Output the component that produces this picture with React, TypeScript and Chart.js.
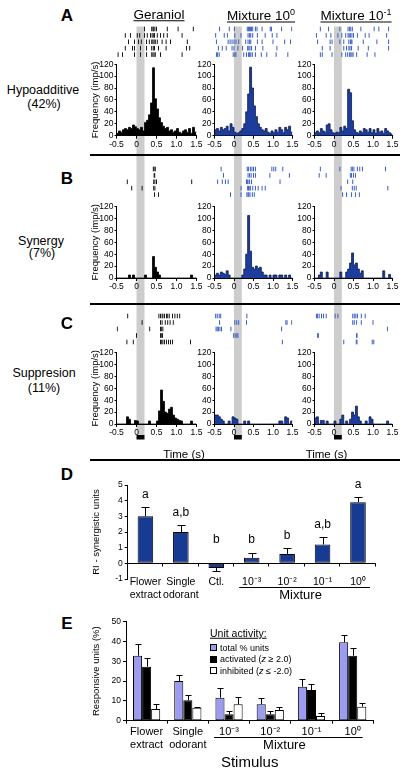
import React, { useEffect, useRef } from "react";
import { Chart, registerables } from "chart.js";
Chart.register(...registerables);

const FONT = "'Liberation Sans', Arial, Helvetica, sans-serif";
Chart.defaults.font.family = FONT;
Chart.defaults.color = "#000";

// ---------------- data: PSTH panels ----------------
const TIME_TICKS = [-0.5, 0, 0.5, 1.0, 1.5];
const FREQ_TICKS = [0, 20, 40, 60, 80, 100, 120];
const STIMULUS_WINDOW = [0, 0.2];
const TIME_START = -0.5;
const TIME_END = 1.5;
const BIN_WIDTH = 0.05;

// firing rate (imp/s) per 50 ms bin, -0.5 .. 1.5 s
const HIST_A_GERANIOL = [4, 8, 6, 10, 12, 10, 14, 12, 18, 15, 12, 10, 14, 8, 22, 26, 35, 55, 114, 62, 45, 30, 22, 16, 12, 14, 8, 10, 6, 8, 12, 6, 4, 8, 10, 6, 12, 4, 14, 6];
const HIST_A_MIX0 = [10, 12, 8, 14, 10, 12, 16, 8, 20, 14, 6, 4, 5, 8, 12, 20, 40, 70, 115, 80, 50, 32, 20, 14, 10, 8, 12, 6, 4, 8, 5, 10, 6, 14, 10, 5, 14, 10, 16, 6];
const HIST_A_MIX1 = [5, 8, 5, 12, 8, 6, 18, 20, 10, 5, 4, 6, 5, 14, 8, 16, 12, 78, 72, 25, 10, 6, 4, 8, 5, 12, 10, 6, 12, 5, 10, 4, 12, 6, 8, 4, 12, 8, 5, 3];
const HIST_B_GERANIOL = [0, 0, 0, 0, 0, 0, 5, 0, 5, 0, 0, 0, 0, 0, 5, 0, 0, 0, 36, 18, 10, 5, 0, 0, 0, 0, 0, 0, 0, 0, 0, 0, 0, 0, 0, 0, 0, 5, 0, 0];
const HIST_B_MIX0 = [5, 8, 5, 10, 8, 6, 12, 5, 0, 0, 0, 0, 0, 0, 5, 15, 40, 105, 45, 18, 15, 20, 16, 18, 10, 5, 5, 0, 5, 0, 5, 5, 0, 5, 5, 0, 5, 0, 5, 0];
const HIST_B_MIX1 = [0, 0, 5, 10, 0, 0, 10, 0, 0, 0, 0, 0, 0, 10, 0, 0, 10, 15, 25, 42, 22, 25, 15, 8, 12, 0, 0, 0, 0, 0, 0, 0, 0, 0, 0, 12, 0, 0, 6, 0];
const HIST_C_GERANIOL = [0, 0, 0, 0, 0, 12, 8, 0, 0, 6, 5, 0, 0, 0, 0, 0, 5, 0, 0, 0, 5, 22, 57, 38, 20, 18, 25, 28, 15, 10, 8, 6, 5, 0, 0, 0, 0, 5, 0, 0];
const HIST_C_MIX0 = [15, 15, 12, 8, 5, 0, 0, 5, 0, 12, 10, 8, 0, 0, 0, 5, 0, 5, 0, 0, 0, 0, 0, 0, 0, 0, 0, 0, 0, 0, 0, 0, 0, 5, 5, 0, 12, 10, 0, 5];
const HIST_C_MIX1 = [10, 12, 0, 6, 6, 0, 5, 0, 0, 0, 5, 0, 0, 8, 15, 0, 5, 0, 8, 20, 15, 30, 12, 5, 0, 0, 5, 0, 12, 8, 0, 0, 0, 0, 0, 0, 0, 5, 0, 0];

// spike times (s), five trials each
const RASTER_A_GERANIOL = [
  [0.2, 0.38, 0.41, 0.43, 0.46, 0.5, 0.77, 1.04, 1.42],
  [-0.28, -0.15, 0.02, 0.08, 0.2, 0.27, 0.35, 0.39, 0.42, 0.45, 0.52, 0.6, 0.68, 0.77, 1.14],
  [-0.2, -0.05, 0.05, 0.12, 0.25, 0.32, 0.38, 0.41, 0.44, 0.47, 0.52, 0.64, 0.74, 0.85, 1.27],
  [-0.28, -0.1, -0.05, 0.1, 0.25, 0.38, 0.42, 0.45, 0.55, 0.74, 1.25, 1.33],
  [-0.46, -0.35, -0.05, 0.1, 0.25, 0.38, 0.41, 0.44, 0.47, 0.6, 1.14],
];
const RASTER_A_MIX0 = [
  [-0.37, -0.12, 0.01, 0.34, 0.37, 0.4, 0.42, 0.45, 0.48, 0.55, 0.59, 0.72, 0.93, 0.96, 1.22, 1.48],
  [-0.47, -0.25, -0.17, 0.02, 0.18, 0.36, 0.4, 0.43, 0.48, 0.6, 0.8, 0.98, 1.1],
  [-0.45, -0.15, -0.1, -0.05, 0.0, 0.05, 0.12, 0.3, 0.36, 0.4, 0.43, 0.6, 0.72, 1.0, 1.3, 1.45],
  [-0.4, -0.3, -0.2, -0.05, 0.0, 0.1, 0.22, 0.35, 0.38, 0.41, 0.45, 0.55, 0.74, 1.1],
  [-0.45, -0.42, -0.38, -0.02, 0.02, 0.05, 0.25, 0.32, 0.37, 0.4, 0.43, 0.47, 0.55, 0.7, 0.84, 1.08, 1.38],
];
const RASTER_A_MIX1 = [
  [-0.35, -0.14, 0.15, 0.36, 0.4, 0.43, 0.47, 0.69, 1.03, 1.15, 1.4],
  [-0.45, -0.2, -0.08, 0.1, 0.2, 0.3, 0.36, 0.39, 0.42, 0.46, 0.5, 0.6, 0.8, 0.9, 1.35],
  [-0.42, -0.1, -0.05, 0.15, 0.25, 0.38, 0.42, 0.44, 0.46, 0.75, 1.1, 1.4],
  [-0.3, -0.1, 0.25, 0.32, 0.38, 0.41, 0.45, 0.62, 0.88, 1.4],
  [-0.35, -0.3, -0.05, 0.2, 0.3, 0.35, 0.4, 0.43, 0.46, 0.49, 0.58, 0.85, 1.05],
];
const RASTER_B_GERANIOL = [
  [0.42, 0.44, 0.47],
  [0.44, 0.455],
  [-0.23, 0.43, 0.46, 0.5, 1.38],
  [-0.12, 0.14, 0.43, 0.46],
  [0.45, 0.55],
];
const RASTER_B_MIX0 = [
  [-0.33, 0.34, 0.37, 0.42, 0.46, 0.5, 0.55, 0.97, 1.02, 1.07, 1.25],
  [-0.27, 0.36, 0.4, 0.44, 0.5, 0.55, 0.92, 1.42],
  [-0.42, -0.3, -0.22, -0.15, 0.32, 0.34, 0.36, 0.4, 0.45, 1.18],
  [0.18, 0.35, 0.37, 0.39, 0.42, 0.48, 0.55, 0.62, 0.72, 0.8],
  [-0.09, 0.18, 0.33, 0.36, 0.38, 0.41, 0.47, 0.52],
];
const RASTER_B_MIX1 = [
  [-0.35, 0.15, 0.44, 0.47, 0.51, 0.6, 0.66, 0.73, 1.32],
  [-0.38, -0.2, 0.42, 0.45, 0.5, 0.55],
  [0.35, 0.48],
  [0.18, 0.47, 0.52, 0.57, 1.38],
  [0.22, 0.32, 0.45, 0.55, 0.65],
];
const RASTER_C_GERANIOL = [
  [-0.22, 0.56, 0.6, 0.64, 0.66, 0.7, 0.75, 0.78, 0.82, 0.9, 0.96, 1.02, 1.08],
  [0.14, 0.6, 0.64, 0.72, 0.78, 0.84, 0.92],
  [-0.48, 0.33, 0.6, 0.63, 0.66],
  [0.0, 0.6, 0.62, 0.65],
  [-0.24, -0.08, 0.6, 0.63, 0.66, 0.7, 0.75, 0.8, 0.85, 0.9, 1.35],
];
const RASTER_C_MIX0 = [
  [-0.47, -0.43, -0.38, -0.34, 0.33],
  [-0.37, 0.02, 0.07, 0.12, 0.32, 1.33, 1.36, 1.48],
  [-0.46, -0.43, -0.4, -0.36, -0.32, -0.08, 1.22],
  [-0.01, 0.03, 0.07, 0.1],
  [1.24],
];
const RASTER_C_MIX1 = [
  [-0.45, -0.42, -0.38, -0.32, -0.27, -0.2, 0.03, 0.1, 0.48, 0.52, 0.56, 0.6, 0.7, 0.8],
  [0.48, 0.52, 0.58, 0.7, 1.0],
  [1.37],
  [-0.42, -0.4, 0.58, 0.59],
  [0.25, 0.57, 0.59, 0.98, 1.02],
];

// ---------------- data: panel D ----------------
const D_CATEGORIES = [["Flower", "extract"], ["Single", "odorant"], "Ctl.", "10⁻³", "10⁻²", "10⁻¹", "10⁰"];
const D_RI = [3.0, 2.0, -0.3, 0.35, 0.6, 1.2, 3.9];
const D_RI_SEM = [0.6, 0.44, 0.22, 0.34, 0.36, 0.45, 0.34];
const D_LETTERS = ["a", "a,b", "b", "b", "b", "a,b", "a"];
const D_TICKS = [-1, 0, 1, 2, 3, 4, 5];
const D_MIXTURE_RANGE = [3, 6];

// ---------------- data: panel E ----------------
const E_CATEGORIES = [["Flower", "extract"], ["Single", "odorant"], "10⁻³", "10⁻²", "10⁻¹", "10⁰"];
const E_TOTAL = [32.8, 20, 11.6, 8.3, 17.2, 39.6];
const E_TOTAL_SEM = [5.8, 3, 4.7, 3.3, 3.7, 3.7];
const E_ACTIVATED = [27.3, 10.3, 3.2, 3.2, 15.5, 32.8];
const E_ACTIVATED_SEM = [4.2, 2.8, 1.7, 1.7, 2.9, 4.1];
const E_INHIBITED = [5.9, 6.6, 8.3, 5.4, 2.4, 7.1];
const E_INHIBITED_SEM = [2.4, 0.5, 3.5, 1.7, 1.3, 1.7];
const E_SERIES = ["total % units", "activated (z ≥ 2.0)", "inhibited (z ≤ -2.0)"];
const E_TICKS = [0, 10, 20, 30, 40, 50];
const E_MIXTURE_RANGE = [2, 5];

// ---------------- styles / layout ----------------
const GRAY = "#cdcdcd";
const HIST_FILL = ["#000000", "#1c3d9c", "#1c3d9c"];
const HIST_EDGE = ["#000000", "#0b1850", "#0b1850"];
const SPIKE_COLOR = ["#1a1a1a", "#3a5ec8", "#3a5ec8"];
const D_BAR = "#173a92";
const E_COLORS = ["#9b9bf0", "#000000", "#ffffff"];

const COL_X = [116.5, 214.5, 314.5];
const PLOT_W = [80, 78, 78];
const Y_AXIS_W = [36, 20, 20];
const HIST_PX = 71.5; // pixels for 120 imp/s
const PANELS = [
  { rasterTop: 24.5, base: 135.7, canvasTop: 18, canvasBottom: 158, rowGap: 6.4, grayFromChart: true, stim: false },
  { rasterTop: 164.5, base: 278, canvasTop: 158, canvasBottom: 305, rowGap: 6.4, grayFromChart: false, stim: false },
  { rasterTop: 311.5, base: 424, canvasTop: 305, canvasBottom: 450, rowGap: 6.5, grayFromChart: false, stim: true },
];
const RASTER_PAD = 4.5;

type CellProps = { hist: number[]; raster: number[][]; col: number; panel: number };

function PsthCell({ hist, raster, col, panel }: CellProps) {
  const ref = useRef<HTMLCanvasElement>(null);
  const P = PANELS[panel];
  const L = COL_X[col];
  const R = L + PLOT_W[col];
  const cl = Math.round(L - Y_AXIS_W[col]);
  const cr = Math.round(R + 10);
  const width = cr - cl;
  const height = P.canvasBottom - P.canvasTop;

  useEffect(() => {
    const plotH = P.base - P.rasterTop;
    const yMax = (120 * plotH) / HIST_PX;
    const rMin = -RASTER_PAD / P.rowGap;
    const rMax = rMin + plotH / P.rowGap;
    const histPts = hist.map((v, i) => ({ x: TIME_START + i * BIN_WIDTH, y: v }));
    histPts.push({ x: TIME_END, y: hist[hist.length - 1] });
    const spikes = raster.flatMap((row, r) => row.map((t) => ({ x: t, y: r })));

    const decor = {
      id: "psthDecor",
      beforeDraw(chart: any) {
        const { ctx, chartArea, scales } = chart;
        const x0 = scales.x.getPixelForValue(STIMULUS_WINDOW[0]);
        const x1 = scales.x.getPixelForValue(STIMULUS_WINDOW[1]);
        const top = P.grayFromChart ? chartArea.top + 2 : 0;
        const bottom = P.stim ? scales.y.getPixelForValue(0) + 11 : chart.height;
        ctx.save();
        ctx.fillStyle = GRAY;
        ctx.fillRect(x0, top, x1 - x0, bottom - top);
        ctx.restore();
      },
      afterDraw(chart: any) {
        const { ctx, chartArea, scales } = chart;
        const y0 = scales.y.getPixelForValue(0);
        const y120 = scales.y.getPixelForValue(120);
        ctx.save();
        ctx.strokeStyle = "#000";
        ctx.lineWidth = 1;
        const ax = Math.round(chartArea.left) - 0.5;
        ctx.beginPath();
        ctx.moveTo(ax, y0);
        ctx.lineTo(ax, y120);
        ctx.stroke();
        if (P.stim) {
          const x0 = scales.x.getPixelForValue(STIMULUS_WINDOW[0]);
          const x1 = scales.x.getPixelForValue(STIMULUS_WINDOW[1]);
          ctx.fillStyle = "#000";
          ctx.fillRect(x0, y0 + 11, x1 - x0, 4.5);
        }
        if (col === 0) {
          ctx.translate(chartArea.left - 21, scales.y.getPixelForValue(60));
          ctx.rotate(-Math.PI / 2);
          ctx.textAlign = "center";
          ctx.textBaseline = "middle";
          ctx.font = `9.5px ${FONT}`;
          ctx.fillStyle = "#000";
          ctx.fillText("Frequency (imp/s)", 0, 0);
        }
        ctx.restore();
      },
    };

    const chart = new Chart(ref.current as HTMLCanvasElement, {
      type: "line",
      data: {
        datasets: [
          {
            data: histPts,
            stepped: "before",
            fill: "origin",
            backgroundColor: HIST_FILL[col],
            borderColor: HIST_EDGE[col],
            borderWidth: 0.8,
            pointRadius: 0,
            yAxisID: "y",
          },
          {
            data: spikes,
            showLine: false,
            pointStyle: "line",
            pointRotation: 90,
            pointRadius: 2.3,
            pointBorderColor: SPIKE_COLOR[col],
            pointBorderWidth: 1,
            borderColor: SPIKE_COLOR[col],
            yAxisID: "yr",
          },
        ],
      } as any,
      options: {
        responsive: false,
        animation: false,
        events: [],
        layout: { padding: { left: 0, right: cr - R, top: P.rasterTop - P.canvasTop, bottom: 0 } },
        plugins: { legend: { display: false }, tooltip: { enabled: false } },
        scales: {
          x: {
            type: "linear",
            min: TIME_START,
            max: TIME_END,
            afterBuildTicks: (s: any) => {
              s.ticks = TIME_TICKS.map((v) => ({ value: v }));
            },
            afterFit: (s: any) => {
              s.height = P.canvasBottom - P.base;
            },
            ticks: {
              callback: (v: any) => (Number(v) === 0 ? "0" : Number(v).toFixed(1)),
              font: { size: 8.5 },
              color: "#000",
              padding: 1,
              maxRotation: 0,
              autoSkip: false,
            },
            grid: { display: true, drawOnChartArea: false, tickLength: 3, color: "#000" },
            border: { display: true, color: "#000", width: 1 },
          },
          y: {
            type: "linear",
            min: 0,
            max: yMax,
            afterBuildTicks: (s: any) => {
              s.ticks = FREQ_TICKS.map((v) => ({ value: v }));
            },
            afterFit: (s: any) => {
              s.width = L - cl;
            },
            ticks: { font: { size: 8.5 }, color: "#000", padding: 1 },
            grid: { display: true, drawOnChartArea: false, tickLength: 2, color: "#000" },
            border: { display: false },
          },
          yr: { type: "linear", display: false, reverse: true, min: rMin, max: rMax },
        },
      } as any,
      plugins: [decor],
    });
    return () => chart.destroy();
  }, []);

  return (
    <canvas
      ref={ref}
      width={width}
      height={height}
      style={{ position: "absolute", left: cl, top: P.canvasTop, width, height }}
    />
  );
}

// ---------------- shared plugins for D / E ----------------
function makeErrorBarPlugin(cap: number) {
  return {
    id: "errorBars",
    afterDatasetsDraw(chart: any) {
      const { ctx } = chart;
      const y = chart.scales.y;
      ctx.save();
      ctx.strokeStyle = "#000";
      ctx.lineWidth = 1;
      chart.data.datasets.forEach((ds: any, di: number) => {
        const meta = chart.getDatasetMeta(di);
        (ds.errors || []).forEach((e: number, i: number) => {
          const v = ds.data[i];
          const dir = v < 0 ? -1 : 1;
          const bx = Math.round(meta.data[i].x) + 0.5;
          const yv = y.getPixelForValue(v);
          const ye = Math.round(y.getPixelForValue(v + dir * e)) + 0.5;
          ctx.beginPath();
          ctx.moveTo(bx, yv);
          ctx.lineTo(bx, ye);
          ctx.moveTo(bx - cap, ye);
          ctx.lineTo(bx + cap, ye);
          ctx.stroke();
        });
      });
      ctx.restore();
    },
  };
}

function drawMixture(chart: any, range: number[], lineDy: number, textDy: number, leftExt: number, rightExt: number) {
  const { ctx, chartArea, scales } = chart;
  const xa = scales.x.getPixelForValue(range[0]) - leftExt;
  const xb = scales.x.getPixelForValue(range[1]) + rightExt;
  const yl = Math.round(chartArea.bottom + lineDy) + 0.5;
  ctx.save();
  ctx.strokeStyle = "#000";
  ctx.lineWidth = 1;
  ctx.beginPath();
  ctx.moveTo(xa, yl);
  ctx.lineTo(xb, yl);
  ctx.stroke();
  ctx.font = `13px ${FONT}`;
  ctx.fillStyle = "#000";
  ctx.textAlign = "center";
  ctx.textBaseline = "middle";
  ctx.fillText("Mixture", (xa + xb) / 2 - 4, chartArea.bottom + textDy);
  ctx.restore();
}

function PanelD() {
  const ref = useRef<HTMLCanvasElement>(null);
  const cl = 78, cr = 388, ct = 476, cb = 608;
  const L = 127.7, R = 375.7, T = 485, B = 579;
  useEffect(() => {
    const decor = {
      id: "dDecor",
      afterDraw(chart: any) {
        const { ctx, chartArea, scales } = chart;
        const x = scales.x, y = scales.y;
        const y0 = Math.round(y.getPixelForValue(0)) + 0.5;
        ctx.save();
        ctx.strokeStyle = "#000";
        ctx.lineWidth = 1;
        ctx.beginPath();
        ctx.moveTo(chartArea.left, y0);
        ctx.lineTo(chartArea.right, y0);
        const n = D_RI.length;
        for (let i = 0; i < n; i++) {
          const bx = i < n - 1 ? (x.getPixelForValue(i) + x.getPixelForValue(i + 1)) / 2 : chartArea.right;
          const px = Math.round(bx) - 0.5;
          ctx.moveTo(px, y0);
          ctx.lineTo(px, y0 + 3);
        }
        ctx.stroke();
        ctx.fillStyle = "#000";
        ctx.textAlign = "center";
        ctx.textBaseline = "middle";
        ctx.font = `12px ${FONT}`;
        D_LETTERS.forEach((s, i) => {
          const top = Math.max(D_RI[i] + D_RI_SEM[i], 0.7) + 0.8;
          ctx.fillText(s, x.getPixelForValue(i), y.getPixelForValue(top));
        });
        // category labels (drawn just under the -1 line)
        ctx.font = `10.5px ${FONT}`;
        D_CATEGORIES.forEach((lab, i) => {
          const lines = Array.isArray(lab) ? lab : [lab];
          lines.forEach((ln, k) => {
            ctx.fillText(ln, x.getPixelForValue(i), chartArea.bottom + 3 + k * 13.3);
          });
        });
        ctx.restore();
        drawMixture(chart, D_MIXTURE_RANGE, 8.3, 16.5, 12.5, 12);
      },
    };
    const chart = new Chart(ref.current as HTMLCanvasElement, {
      type: "bar",
      data: {
        labels: D_CATEGORIES,
        datasets: [
          {
            data: D_RI,
            errors: D_RI_SEM,
            backgroundColor: D_BAR,
            borderColor: "#000",
            borderWidth: 1,
            borderSkipped: false,
            barPercentage: 0.44,
            categoryPercentage: 1,
          },
        ],
      } as any,
      options: {
        responsive: false,
        animation: false,
        events: [],
        layout: { padding: { left: 0, right: cr - R, top: T - ct, bottom: 0 } },
        plugins: { legend: { display: false }, tooltip: { enabled: false } },
        scales: {
          x: {
            afterFit: (s: any) => {
              s.height = cb - B;
            },
            grid: { display: false },
            border: { display: false },
            ticks: { display: false },
          },
          y: {
            min: -1,
            max: 5,
            afterBuildTicks: (s: any) => {
              s.ticks = D_TICKS.map((v) => ({ value: v }));
            },
            afterFit: (s: any) => {
              s.width = L - cl;
            },
            ticks: { font: { size: 8.5 }, color: "#000", padding: 2 },
            grid: { display: true, drawOnChartArea: false, tickLength: 3, color: "#000" },
            border: { display: true, color: "#000" },
            title: {
              display: true,
              text: "RI - synergistic units",
              font: { size: 9.5 },
              color: "#000",
              padding: { top: 13, bottom: 13 },
            },
          },
        },
      } as any,
      plugins: [makeErrorBarPlugin(4), decor],
    });
    return () => chart.destroy();
  }, []);
  return (
    <canvas
      ref={ref}
      width={cr - cl}
      height={cb - ct}
      style={{ position: "absolute", left: cl, top: ct, width: cr - cl, height: cb - ct }}
    />
  );
}

function PanelE() {
  const ref = useRef<HTMLCanvasElement>(null);
  const cl = 78, cr = 388, ct = 610, cb = 775;
  const L = 126, R = 373.3, T = 621.7, B = 720.7;
  useEffect(() => {
    const decor = {
      id: "eDecor",
      afterDraw(chart: any) {
        drawMixture(chart, E_MIXTURE_RANGE, 16, 24.5, 15, 10);
      },
    };
    const common = { borderColor: "#000", borderWidth: 1, borderSkipped: false, barPercentage: 1, categoryPercentage: 0.66 };
    const chart = new Chart(ref.current as HTMLCanvasElement, {
      type: "bar",
      data: {
        labels: E_CATEGORIES,
        datasets: [
          { label: E_SERIES[0], data: E_TOTAL, errors: E_TOTAL_SEM, backgroundColor: E_COLORS[0], ...common },
          { label: E_SERIES[1], data: E_ACTIVATED, errors: E_ACTIVATED_SEM, backgroundColor: E_COLORS[1], ...common },
          { label: E_SERIES[2], data: E_INHIBITED, errors: E_INHIBITED_SEM, backgroundColor: E_COLORS[2], ...common },
        ],
      } as any,
      options: {
        responsive: false,
        animation: false,
        events: [],
        layout: { padding: { left: 0, right: cr - R, top: T - ct, bottom: 0 } },
        plugins: { legend: { display: false }, tooltip: { enabled: false } },
        scales: {
          x: {
            afterFit: (s: any) => {
              s.height = cb - B;
            },
            grid: { display: true, drawOnChartArea: false, tickLength: 3, color: "#000", offset: true },
            border: { display: true, color: "#000" },
            ticks: { font: { size: 11 }, color: "#000", padding: 1.4, maxRotation: 0, autoSkip: false },
            title: { display: true, text: "Stimulus", font: { size: 15 }, color: "#000", padding: { top: 0, bottom: 3 } },
          },
          y: {
            min: 0,
            max: 50,
            afterBuildTicks: (s: any) => {
              s.ticks = E_TICKS.map((v) => ({ value: v }));
            },
            afterFit: (s: any) => {
              s.width = L - cl;
            },
            ticks: { font: { size: 8.5 }, color: "#000", padding: 2 },
            grid: { display: true, drawOnChartArea: false, tickLength: 3, color: "#000" },
            border: { display: true, color: "#000" },
            title: {
              display: true,
              text: "Responsive units (%)",
              font: { size: 9.5 },
              color: "#000",
              padding: { top: 13, bottom: 13 },
            },
          },
        },
      } as any,
      plugins: [makeErrorBarPlugin(3), decor],
    });
    return () => chart.destroy();
  }, []);
  return (
    <canvas
      ref={ref}
      width={cr - cl}
      height={cb - ct}
      style={{ position: "absolute", left: cl, top: ct, width: cr - cl, height: cb - ct }}
    />
  );
}

// ---------------- text helpers ----------------
function Txt(props: { x: number; y: number; size: number; bold?: boolean; left?: boolean; underline?: boolean; children: any }) {
  return (
    <div
      style={{
        position: "absolute",
        left: props.x,
        top: props.y,
        transform: props.left ? "translate(0,-50%)" : "translate(-50%,-50%)",
        fontFamily: FONT,
        fontSize: props.size,
        fontWeight: props.bold ? "bold" : "normal",
        textDecoration: props.underline ? "underline" : "none",
        lineHeight: 1,
        whiteSpace: "nowrap",
        color: "#000",
      }}
    >
      {props.children}
    </div>
  );
}

function Sep({ y }: { y: number }) {
  return <div style={{ position: "absolute", left: 90, top: y, width: 310, height: 2, background: "#000" }} />;
}

function italicZ(s: string) {
  return s.split(/(\bz\b)/).map((part, i) => (part === "z" ? <i key={i}>z</i> : <span key={i}>{part}</span>));
}

const CELLS = [
  { hist: HIST_A_GERANIOL, raster: RASTER_A_GERANIOL, col: 0, panel: 0 },
  { hist: HIST_A_MIX0, raster: RASTER_A_MIX0, col: 1, panel: 0 },
  { hist: HIST_A_MIX1, raster: RASTER_A_MIX1, col: 2, panel: 0 },
  { hist: HIST_B_GERANIOL, raster: RASTER_B_GERANIOL, col: 0, panel: 1 },
  { hist: HIST_B_MIX0, raster: RASTER_B_MIX0, col: 1, panel: 1 },
  { hist: HIST_B_MIX1, raster: RASTER_B_MIX1, col: 2, panel: 1 },
  { hist: HIST_C_GERANIOL, raster: RASTER_C_GERANIOL, col: 0, panel: 2 },
  { hist: HIST_C_MIX0, raster: RASTER_C_MIX0, col: 1, panel: 2 },
  { hist: HIST_C_MIX1, raster: RASTER_C_MIX1, col: 2, panel: 2 },
];

export default function App() {
  return (
    <div style={{ position: "absolute", left: 0, top: 0, width: 411, height: 775, background: "#fff", overflow: "hidden" }}>
      {CELLS.map((c, i) => (
        <PsthCell key={i} {...c} />
      ))}
      <PanelD />
      <PanelE />

      <Sep y={154} />
      <Sep y={302.5} />
      <Sep y={458.5} />

      <Txt x={67} y={15} size={17} bold>A</Txt>
      <Txt x={67} y={178} size={17} bold>B</Txt>
      <Txt x={67} y={323} size={17} bold>C</Txt>
      <Txt x={67} y={474} size={17} bold>D</Txt>
      <Txt x={67} y={623} size={17} bold>E</Txt>

      <Txt x={159} y={15} size={13.5} underline>Geraniol</Txt>
      <Txt x={261} y={15} size={13.5} underline>
        Mixture 10<sup style={{ fontSize: 9 }}>0</sup>
      </Txt>
      <Txt x={356} y={15} size={13.5} underline>
        Mixture 10<sup style={{ fontSize: 9 }}>-1</sup>
      </Txt>

      <Txt x={43} y={90} size={12.5}>Hypoadditive</Txt>
      <Txt x={44} y={103.5} size={12.5}>(42%)</Txt>
      <Txt x={41} y={241} size={12.5}>Synergy</Txt>
      <Txt x={42} y={253} size={12.5}>(7%)</Txt>
      <Txt x={44} y={373} size={12.5}>Suppresion</Txt>
      <Txt x={44} y={388} size={12.5}>(11%)</Txt>

      <Txt x={184} y={455} size={11.5}>Time (s)</Txt>
      <Txt x={326.5} y={455} size={11.5}>Time (s)</Txt>

      <Txt x={210} y={633.3} size={10.5} left underline>Unit activity:</Txt>
      {E_SERIES.map((s, i) => (
        <React.Fragment key={s}>
          <div
            style={{
              position: "absolute",
              left: 210,
              top: 647.7 + i * 11.5 - 3.5,
              width: 5,
              height: 5,
              border: "1px solid #000",
              background: E_COLORS[i],
            }}
          />
          <Txt x={220} y={647.7 + i * 11.5} size={9} left>
            {italicZ(s)}
          </Txt>
        </React.Fragment>
      ))}
    </div>
  );
}
